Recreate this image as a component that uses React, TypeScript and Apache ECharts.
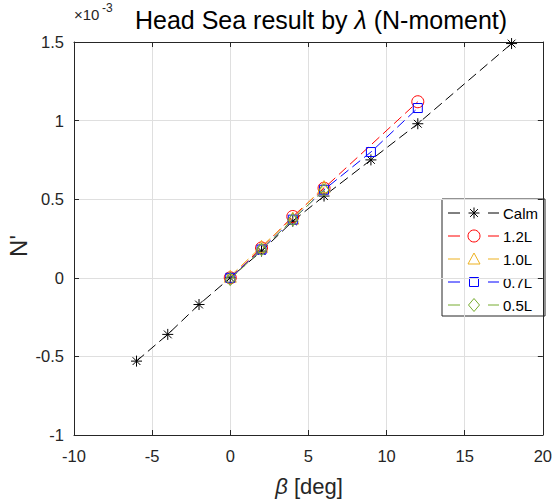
import React, { useEffect, useRef } from 'react';
import * as echarts from 'echarts';

const FONT = '"Liberation Sans", Arial, Helvetica, sans-serif';
const AXIS_COLOR = '#262626';
const GRID_COLOR = '#dfdfdf';

// axis ranges / ticks
const xMin = -10;
const xMax = 20;
const xStep = 5;
const yMin = -1;
const yMax = 1.5;
const yStep = 0.5;

// series names
const seriesNames = ['Calm', '1.2L', '1.0L', '0.7L', '0.5L'];

// data (N' values in units of 1e-3)
const betaCalm = [-6, -4, -2, 0, 2, 4, 6, 9, 12, 18];
const nCalm = [-0.53, -0.36, -0.17, 0, 0.17, 0.36, 0.52, 0.75, 0.98, 1.49];

const beta12 = [0, 2, 4, 6, 12];
const n12 = [0, 0.19, 0.39, 0.57, 1.12];

const beta10 = [0, 2, 4, 6];
const n10 = [0.01, 0.2, 0.38, 0.58];

const beta07 = [0, 2, 4, 6, 9, 12];
const n07 = [0, 0.18, 0.37, 0.56, 0.8, 1.08];

const beta05 = [0, 2, 4, 6];
const n05 = [-0.01, 0.18, 0.37, 0.56];

const colors = ['#000000', '#ff0000', '#edb120', '#0000ff', '#77ac30'];
const ASTERISK = 'path://M5 0L5 10M0 5L10 5M1.46 1.46L8.54 8.54M1.46 8.54L8.54 1.46';
const symbols = [ASTERISK, 'circle', 'triangle', 'rect', 'diamond'];
const symbolSizes: any[] = [11, 12, 12, 9, [10, 12]];

const xs = [betaCalm, beta12, beta10, beta07, beta05];
const ys = [nCalm, n12, n10, n07, n05];

function legendMarker(kind: string, cx: number, cy: number, color: string): any[] {
  const st = { stroke: color, fill: 'none', lineWidth: 1 };
  switch (kind) {
    case 'asterisk': {
      const r = 5.5;
      const d = r * 0.707;
      return [
        { type: 'line', shape: { x1: cx, y1: cy - r, x2: cx, y2: cy + r }, style: st },
        { type: 'line', shape: { x1: cx - r, y1: cy, x2: cx + r, y2: cy }, style: st },
        { type: 'line', shape: { x1: cx - d, y1: cy - d, x2: cx + d, y2: cy + d }, style: st },
        { type: 'line', shape: { x1: cx - d, y1: cy + d, x2: cx + d, y2: cy - d }, style: st },
      ];
    }
    case 'circle':
      return [{ type: 'circle', shape: { cx, cy, r: 6 }, style: st }];
    case 'triangle':
      return [{ type: 'polygon', shape: { points: [[cx, cy - 6], [cx + 6, cy + 5], [cx - 6, cy + 5]] }, style: st }];
    case 'rect':
      return [{ type: 'rect', shape: { x: cx - 4.5, y: cy - 4.5, width: 9, height: 9 }, style: st }];
    default:
      return [{ type: 'polygon', shape: { points: [[cx, cy - 6.5], [cx + 5.5, cy], [cx, cy + 6.5], [cx - 5.5, cy]] }, style: st }];
  }
}

const legendKinds = ['asterisk', 'circle', 'triangle', 'rect', 'diamond'];

export default function App() {
  const ref = useRef<HTMLDivElement>(null);
  useEffect(() => {
    if (!ref.current) return;
    const chart = echarts.init(ref.current, null, { renderer: 'svg' });

    const series = seriesNames.map((name, i) => ({
      name,
      type: 'line',
      data: xs[i].map((x, k) => [x, ys[i][k]]),
      symbol: symbols[i],
      symbolSize: symbolSizes[i],
      showAllSymbol: true,
      clip: false,
      lineStyle: { color: colors[i], width: 1, type: [10, 5] },
      itemStyle: { color: 'rgba(0,0,0,0)', borderColor: colors[i], borderWidth: 1 },
      emphasis: { disabled: true },
      z: 3 + i,
    }));

    // custom legend box (MATLAB style)
    const lx = 442;
    const ly = 199;
    const legendChildren: any[] = [
      {
        type: 'rect',
        shape: { x: lx, y: ly, width: 103, height: 117 },
        style: { fill: '#ffffff', stroke: AXIS_COLOR, lineWidth: 1 },
      },
    ];
    seriesNames.forEach((name, i) => {
      const cy = ly + 14 + i * 23;
      const c = colors[i];
      legendChildren.push(
        { type: 'line', shape: { x1: lx + 6, y1: cy, x2: lx + 18, y2: cy }, style: { stroke: c, lineWidth: 1 } },
        { type: 'line', shape: { x1: lx + 46, y1: cy, x2: lx + 57, y2: cy }, style: { stroke: c, lineWidth: 1 } },
        ...legendMarker(legendKinds[i], lx + 32, cy, c),
        {
          type: 'text',
          x: lx + 61,
          y: cy,
          style: { text: name, fontSize: 15, fontFamily: FONT, fill: '#000', align: 'left', verticalAlign: 'middle' },
        }
      );
    });

    const grid = { left: 74, right: 10, top: 42, bottom: 69 };

    chart.setOption({
      animation: false,
      grid,
      xAxis: [
        {
          type: 'value',
          min: xMin,
          max: xMax,
          interval: xStep,
          position: 'bottom',
          axisLine: { show: true, onZero: false, lineStyle: { color: AXIS_COLOR, width: 1 } },
          axisTick: { show: true, inside: true, length: 5, lineStyle: { color: AXIS_COLOR } },
          axisLabel: { fontSize: 16.5, color: AXIS_COLOR, fontFamily: FONT, margin: 12 },
          splitLine: { show: true, lineStyle: { color: GRID_COLOR, width: 1 } },
        },
        {
          type: 'value',
          min: xMin,
          max: xMax,
          interval: xStep,
          position: 'top',
          axisLine: { show: true, onZero: false, lineStyle: { color: AXIS_COLOR, width: 1 } },
          axisTick: { show: true, inside: true, length: 5, lineStyle: { color: AXIS_COLOR } },
          axisLabel: { show: false },
          splitLine: { show: false },
        },
      ],
      yAxis: [
        {
          type: 'value',
          min: yMin,
          max: yMax,
          interval: yStep,
          position: 'left',
          axisLine: { show: true, onZero: false, lineStyle: { color: AXIS_COLOR, width: 1 } },
          axisTick: { show: true, inside: true, length: 5, lineStyle: { color: AXIS_COLOR } },
          axisLabel: { fontSize: 16.5, color: AXIS_COLOR, fontFamily: FONT, margin: 10 },
          splitLine: { show: true, lineStyle: { color: GRID_COLOR, width: 1 } },
        },
        {
          type: 'value',
          min: yMin,
          max: yMax,
          interval: yStep,
          position: 'right',
          axisLine: { show: true, onZero: false, lineStyle: { color: AXIS_COLOR, width: 1 } },
          axisTick: { show: true, inside: true, length: 5, lineStyle: { color: AXIS_COLOR } },
          axisLabel: { show: false },
          splitLine: { show: false },
        },
      ],
      graphic: [
        {
          type: 'text',
          x: 321,
          y: 20,
          style: {
            text: 'Head Sea result by {i|λ} (N-moment)',
            fontSize: 25,
            fontFamily: FONT,
            fill: '#000',
            align: 'center',
            verticalAlign: 'middle',
            rich: { i: { fontStyle: 'italic', fontSize: 25, fontFamily: FONT, fill: '#000' } },
          },
        },
        {
          type: 'text',
          x: 74,
          y: 14,
          style: { text: '×10', fontSize: 15, fontFamily: FONT, fill: AXIS_COLOR, align: 'left', verticalAlign: 'middle' },
        },
        {
          type: 'text',
          x: 102,
          y: 8,
          style: { text: '-3', fontSize: 12, fontFamily: FONT, fill: AXIS_COLOR, align: 'left', verticalAlign: 'middle' },
        },
        {
          type: 'text',
          x: 309,
          y: 486,
          style: {
            text: '{i|β} [deg]',
            fontSize: 22,
            fontFamily: FONT,
            fill: AXIS_COLOR,
            align: 'center',
            verticalAlign: 'middle',
            rich: { i: { fontStyle: 'italic', fontSize: 22, fontFamily: FONT, fill: AXIS_COLOR } },
          },
        },
        {
          type: 'text',
          x: 18,
          y: 246,
          rotation: Math.PI / 2,
          style: {
            text: "N'",
            fontSize: 24,
            fontFamily: FONT,
            fill: AXIS_COLOR,
            align: 'center',
            verticalAlign: 'middle',
          },
        },
        {
          type: 'group',
          z: 100,
          children: legendChildren,
        },
      ],
      series,
    });
    return () => chart.dispose();
  }, []);
  return (
    <div
      ref={ref}
      style={{ position: 'absolute', left: 0, top: 0, width: 555, height: 504, background: '#fff' }}
    />
  );
}
